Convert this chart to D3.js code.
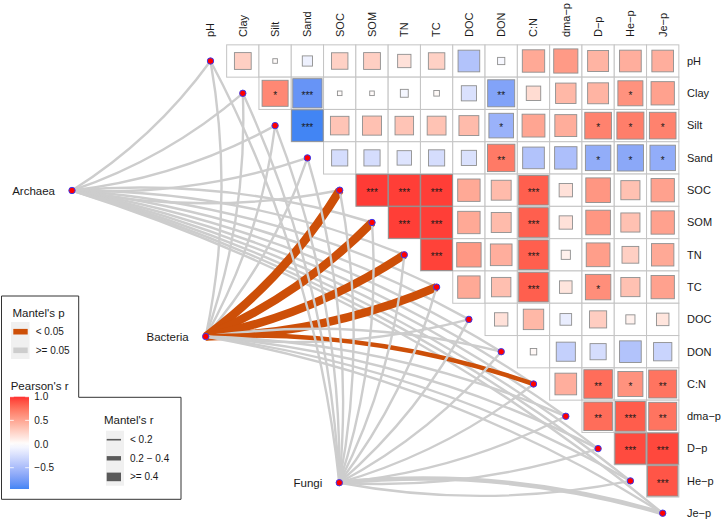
<!DOCTYPE html>
<html>
<head>
<meta charset="utf-8">
<script src="https://cdn.jsdelivr.net/npm/d3@7"></script>
<style>
  html, body { margin: 0; padding: 0; background: #fff; }
  svg text { font-family: "Liberation Sans", Arial, sans-serif; fill: #1a1a1a; }
</style>
</head>
<body>
<svg id="chart" width="726" height="523"></svg>
<script>
// ---------------- DATA ----------------
const vars = ["pH","Clay","Silt","Sand","SOC","SOM","TN","TC","DOC","DON","C:N","dma-p","D-p","He-p","Je-p"];
const varLabels = ["pH","Clay","Silt","Sand","SOC","SOM","TN","TC","DOC","DON","C:N","dma\u2212p","D\u2212p","He\u2212p","Je\u2212p"];

// Pearson's r, upper triangle: each row holds the values for the columns after the diagonal
const r_pH   = [0.27, 0.02, -0.10, 0.26, 0.27, 0.17, 0.26, -0.45, -0.05, 0.48, 0.56, 0.42, 0.45, 0.45];
const r_Clay = [0.65, -0.82, 0.02, 0.02, -0.06, 0.03, -0.22, -0.70, 0.20, 0.40, 0.42, 0.60, 0.52];
const r_Silt = [-0.95, 0.33, 0.35, 0.33, 0.34, 0.38, -0.58, 0.50, 0.46, 0.68, 0.70, 0.68];
const r_Sand = [-0.25, -0.25, -0.20, -0.25, -0.22, 0.72, -0.45, -0.48, -0.62, -0.66, -0.62];
const r_SOC  = [0.97, 0.96, 0.96, 0.48, 0.38, 0.84, 0.17, 0.58, 0.35, 0.52];
const r_SOM  = [0.96, 0.96, 0.48, 0.38, 0.84, 0.17, 0.58, 0.35, 0.52];
const r_TN   = [0.95, 0.57, 0.45, 0.84, 0.08, 0.54, 0.27, 0.48];
const r_TC   = [0.48, 0.36, 0.84, 0.15, 0.62, 0.35, 0.52];
const r_DOC  = [0.17, 0.40, -0.13, 0.28, 0.08, 0.15];
const r_DON  = [0.04, -0.35, -0.25, -0.45, -0.32];
const r_CN   = [0.45, 0.78, 0.60, 0.75];
const r_dmap = [0.78, 0.85, 0.75];
const r_Dp   = [0.92, 0.93];
const r_Hep  = [0.88];

// significance marks for the same cells
const s_pH   = ["","","","","","","","","","","","","",""];
const s_Clay = ["*","***","","","","","","**","","","","*",""];
const s_Silt = ["***","","","","","","*","","","*","*","*"];
const s_Sand = ["","","","","","**","","","*","*","*"];
const s_SOC  = ["***","***","***","","","***","","","",""];
const s_SOM  = ["***","***","","","***","","","",""];
const s_TN   = ["***","","","***","","","",""];
const s_TC   = ["","","***","","*","",""];
const s_DOC  = ["","","","","",""];
const s_DON  = ["","","","",""];
const s_CN   = ["","**","*","**"];
const s_dmap = ["**","***","**"];
const s_Dp   = ["***","***"];
const s_Hep  = ["***"];

// Mantel test: species groups vs. each variable (same order as vars)
const spec = ["Archaea","Bacteria","Fungi"];
const mantelR_Archaea  = [0.10, 0.08, 0.11, 0.10, 0.09, 0.09, 0.10, 0.10, 0.12, 0.08, 0.10, 0.10, 0.11, 0.12, 0.10];
const mantelP_Archaea  = [0.30, 0.45, 0.28, 0.33, 0.40, 0.41, 0.36, 0.38, 0.22, 0.55, 0.31, 0.34, 0.29, 0.25, 0.30];
const mantelR_Bacteria = [0.10, 0.08, 0.10, 0.12, 0.48, 0.47, 0.45, 0.44, 0.12, 0.10, 0.28, 0.10, 0.12, 0.10, 0.12];
const mantelP_Bacteria = [0.25, 0.40, 0.30, 0.20, 0.001, 0.001, 0.001, 0.002, 0.15, 0.30, 0.02, 0.35, 0.22, 0.28, 0.21];
const mantelR_Fungi    = [0.09, 0.08, 0.10, 0.11, 0.10, 0.10, 0.09, 0.10, 0.08, 0.09, 0.11, 0.12, 0.13, 0.15, 0.25];
const mantelP_Fungi    = [0.35, 0.50, 0.32, 0.30, 0.40, 0.42, 0.45, 0.41, 0.52, 0.47, 0.28, 0.20, 0.15, 0.10, 0.07];

const colorTicks = [1.0, 0.5, 0.0, -0.5];
const mantelRLabels = ["< 0.2", "0.2 \u2212 0.4", ">= 0.4"];
const mantelPLabels = ["< 0.05", ">= 0.05"];

// ---------------- BUILD ----------------
const rRows = [r_pH, r_Clay, r_Silt, r_Sand, r_SOC, r_SOM, r_TN, r_TC, r_DOC, r_DON, r_CN, r_dmap, r_Dp, r_Hep];
const sRows = [s_pH, s_Clay, s_Silt, s_Sand, s_SOC, s_SOM, s_TN, s_TC, s_DOC, s_DON, s_CN, s_dmap, s_Dp, s_Hep];
const cells = [];
rRows.forEach((row, i) => row.forEach((r, k) => {
  const j = i + 1 + k;
  cells.push({ row: vars[i], col: vars[j], r, sig: sRows[i][k] });
}));

const mantelR = [mantelR_Archaea, mantelR_Bacteria, mantelR_Fungi];
const mantelP = [mantelP_Archaea, mantelP_Bacteria, mantelP_Fungi];
const links = [];
spec.forEach((s, si) => vars.forEach((v, vi) => {
  links.push({ spec: s, env: v, r: mantelR[si][vi], p: mantelP[si][vi] });
}));

const svg = d3.select("#chart");
const cell = 32.3;
const x0 = 210.5 - cell / 2, y0 = 61 - cell / 2;
const x = d3.scaleBand().domain(vars).range([x0, x0 + cell * vars.length]);
const y = d3.scaleBand().domain(vars).range([y0, y0 + cell * vars.length]);
const cx = v => x(v) + cell / 2;
const cy = v => y(v) + cell / 2;

const rMin = d3.min(cells, d => d.r);
const fill = d3.scaleLinear().domain([rMin, 0, 1])
  .range(["#4285F4", "#FFFFFF", "#FF3030"]).interpolate(d3.interpolateLab);
const side = d3.scaleSqrt().domain([0, 1]).range([0, cell]);

const rClass = r => r < 0.2 ? 0 : (r < 0.4 ? 1 : 2);
const widths = [2.4, 4.6, 8.4];
const pColor = p => p < 0.05 ? "#CD4F08" : "#CDCDCD";

// species node layout
const specPos = {
  "Archaea":  [72, 190.5],
  "Bacteria": [205.7, 336.5],
  "Fungi":    [339.3, 482.7]
};

// ---------------- LINKS ----------------
function arcPath(x1, y1, x2, y2) {
  const L = Math.hypot(x2 - x1, y2 - y1);
  const s = 0.048 * L;
  const R = (L * L / 4 + s * s) / (2 * s);
  const sweep = y2 > y1 ? 1 : 0;
  return `M${x1},${y1} A${R},${R} 0 0 ${sweep} ${x2},${y2}`;
}
const linkG = svg.append("g");
linkG.selectAll("path").data(links).join("path")
  .attr("d", d => {
    const [sx, sy] = specPos[d.spec];
    return arcPath(sx, sy, cx(d.env), cy(d.env));
  })
  .attr("fill", "none")
  .attr("stroke", d => pColor(d.p))
  .attr("stroke-width", d => widths[rClass(d.r)]);

// ---------------- MATRIX ----------------
const gridG = svg.append("g");
gridG.selectAll("rect").data(cells).join("rect")
  .attr("x", d => x(d.col)).attr("y", d => y(d.row))
  .attr("width", cell).attr("height", cell)
  .attr("fill", "#fff").attr("stroke", "#c4c4c4").attr("stroke-width", 1);

const sqG = svg.append("g");
sqG.selectAll("rect").data(cells).join("rect")
  .attr("x", d => cx(d.col) - side(Math.abs(d.r)) / 2)
  .attr("y", d => cy(d.row) - side(Math.abs(d.r)) / 2)
  .attr("width", d => side(Math.abs(d.r)))
  .attr("height", d => side(Math.abs(d.r)))
  .attr("fill", d => fill(d.r))
  .attr("stroke", "#8f8f8f").attr("stroke-width", 0.9);

svg.append("g").selectAll("text").data(cells.filter(d => d.sig)).join("text")
  .attr("x", d => cx(d.col)).attr("y", d => cy(d.row) + 5.6)
  .attr("text-anchor", "middle").attr("font-size", 10).text(d => d.sig);

// diagonal dots
svg.append("g").selectAll("circle").data(vars).join("circle")
  .attr("cx", v => cx(v)).attr("cy", v => cy(v)).attr("r", 3.2)
  .attr("fill", "#FF0000").attr("stroke", "#3A3AF0").attr("stroke-width", 1);

// species dots + labels
svg.append("g").selectAll("circle").data(spec).join("circle")
  .attr("cx", s => specPos[s][0]).attr("cy", s => specPos[s][1]).attr("r", 3.2)
  .attr("fill", "#FF0000").attr("stroke", "#3A3AF0").attr("stroke-width", 1);
svg.append("g").selectAll("text").data(spec).join("text")
  .attr("x", s => specPos[s][0] - 17).attr("y", s => specPos[s][1])
  .attr("dy", "0.35em").attr("text-anchor", "end").attr("font-size", 11.5)
  .text(s => s);

// axis labels: top (rotated) and right
svg.append("g").selectAll("text").data(vars).join("text")
  .attr("transform", v => `translate(${cx(v)},37) rotate(-90)`)
  .attr("dy", "0.35em").attr("text-anchor", "start").attr("font-size", 11)
  .text((v, i) => varLabels[i]);
svg.append("g").selectAll("text").data(vars).join("text")
  .attr("x", 687).attr("y", v => cy(v)).attr("dy", "0.35em")
  .attr("font-size", 11).text((v, i) => varLabels[i]);

// ---------------- LEGEND ----------------
const lg = svg.append("g");
lg.append("path")
  .attr("d", "M1.5,296 H78.7 V397.3 H181 V499.3 H1.5 Z")
  .attr("fill", "#fff").attr("stroke", "#333").attr("stroke-width", 1);

// Mantel's p
lg.append("text").attr("x", 12.5).attr("y", 316.5).attr("font-size", 11.5).text("Mantel's p");
lg.append("rect").attr("x", 11).attr("y", 322).attr("width", 18.5).attr("height", 37).attr("fill", "#f0f0f0");
const pKeys = [0.01, 0.5];
pKeys.forEach((p, i) => {
  const yy = 331.7 + i * 18.6;
  lg.append("rect").attr("x", 13.3).attr("y", yy - 2.8).attr("width", 14.4).attr("height", 5.6)
    .attr("fill", pColor(p));
  lg.append("text").attr("x", 35.7).attr("y", yy).attr("dy", "0.35em")
    .attr("font-size", 10).text(mantelPLabels[i]);
});

// Pearson's r colourbar
lg.append("text").attr("x", 10.7).attr("y", 390).attr("font-size", 11.5).text("Pearson's r");
const barTop = 396.7, barBot = 489, barX = 10, barW = 19;
const by = d3.scaleLinear().domain([rMin, 1]).range([barBot, barTop]);
const grad = svg.append("defs").append("linearGradient").attr("id", "rgrad")
  .attr("x1", 0).attr("y1", 1).attr("x2", 0).attr("y2", 0);
d3.range(0, 1.0001, 0.05).forEach(t => {
  const v = rMin + t * (1 - rMin);
  grad.append("stop").attr("offset", t).attr("stop-color", fill(v));
});
lg.append("rect").attr("x", barX).attr("y", barTop).attr("width", barW).attr("height", barBot - barTop)
  .attr("fill", "url(#rgrad)");
colorTicks.forEach(t => {
  const yy = by(t);
  lg.append("line").attr("x1", barX).attr("x2", barX + 3.8).attr("y1", yy).attr("y2", yy)
    .attr("stroke", "#fff").attr("stroke-width", 0.8);
  lg.append("line").attr("x1", barX + barW - 3.8).attr("x2", barX + barW).attr("y1", yy).attr("y2", yy)
    .attr("stroke", "#fff").attr("stroke-width", 0.8);
  lg.append("text").attr("x", 34.3).attr("y", yy).attr("dy", "0.35em").attr("font-size", 10)
    .text(d3.format(".1f")(t).replace("-", "\u2212"));
});

// Mantel's r
lg.append("text").attr("x", 104).attr("y", 423.5).attr("font-size", 11.5).text("Mantel's r");
lg.append("rect").attr("x", 106).attr("y", 430.7).attr("width", 18).attr("height", 55).attr("fill", "#f0f0f0");
mantelRLabels.forEach((lab, i) => {
  const yy = 439.7 + i * 18.6;
  lg.append("line").attr("x1", 106.7).attr("x2", 121).attr("y1", yy).attr("y2", yy)
    .attr("stroke", "#5a5a5a").attr("stroke-width", [1.6, 4.4, 8.6][i]);
  lg.append("text").attr("x", 130).attr("y", yy).attr("dy", "0.35em").attr("font-size", 10).text(lab);
});
</script>
</body>
</html>
